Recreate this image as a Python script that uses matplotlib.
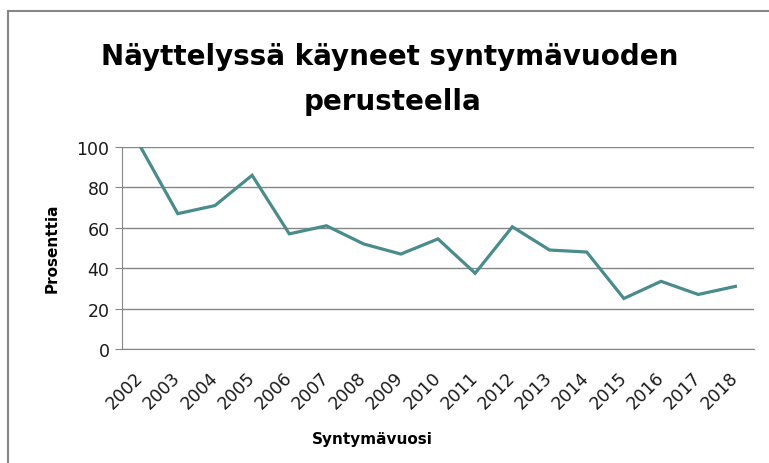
import matplotlib.pyplot as plt
from matplotlib.patches import Rectangle

years = ['2002', '2003', '2004', '2005', '2006', '2007', '2008', '2009', '2010',
         '2011', '2012', '2013', '2014', '2015', '2016', '2017', '2018']
percent = [100, 67, 71, 86, 57, 61, 52, 47, 54.5, 37.5, 60.5, 49, 48, 25, 33.5, 27, 31]

plt.rcParams['font.family'] = ['DejaVu Sans']

fig = plt.figure(figsize=(7.69, 4.64), dpi=100)
ax = fig.add_axes([122/769, 1-350/464, (754-122)/769, (350-148)/464])

x = range(len(years))
ax.plot(x, percent, color='#4a8b8b', linewidth=2.3, solid_joinstyle='miter')
ax.set_xlim(-0.5, len(years)-0.5)
ax.set_ylim(0, 100)
ax.set_yticks([0, 20, 40, 60, 80, 100])
ax.set_xticks(list(x))
ax.set_xticklabels(years, rotation=45, ha='right', va='center', rotation_mode='anchor')
ax.tick_params(axis='x', length=0, labelsize=12.5, pad=18, labelcolor='#1a1a1a')
ax.tick_params(axis='y', length=5, color='#868686', labelsize=12.5, pad=4, labelcolor='#1a1a1a')
ax.grid(axis='y', color='#868686', linewidth=1)
ax.set_axisbelow(True)
for s in ['top', 'right']:
    ax.spines[s].set_visible(False)
ax.spines['left'].set_color('#868686')
ax.spines['bottom'].set_color('#868686')

fig.text(52/769, 1-248/464, 'Prosenttia', rotation=90, ha='center', va='center',
         fontsize=11, fontweight='bold')
fig.text(372/769, 1-440/464, 'Syntymävuosi', ha='center', va='center',
         fontsize=11, fontweight='bold')

fig.text(390/769, 1-65/464, 'Näyttelyssä käyneet syntymävuoden',
         ha='center', va='baseline', fontsize=20, fontweight='bold')
fig.text(392/769, 1-110/464, 'perusteella',
         ha='center', va='baseline', fontsize=20, fontweight='bold')

# chart border (cropped at right and bottom)
fig.patches.append(Rectangle((8/769, -0.1), 1.2, 1-12/464+0.1, transform=fig.transFigure,
                             fill=False, edgecolor='#868686', linewidth=1.5))

fig.savefig('out.png', dpi=100)
